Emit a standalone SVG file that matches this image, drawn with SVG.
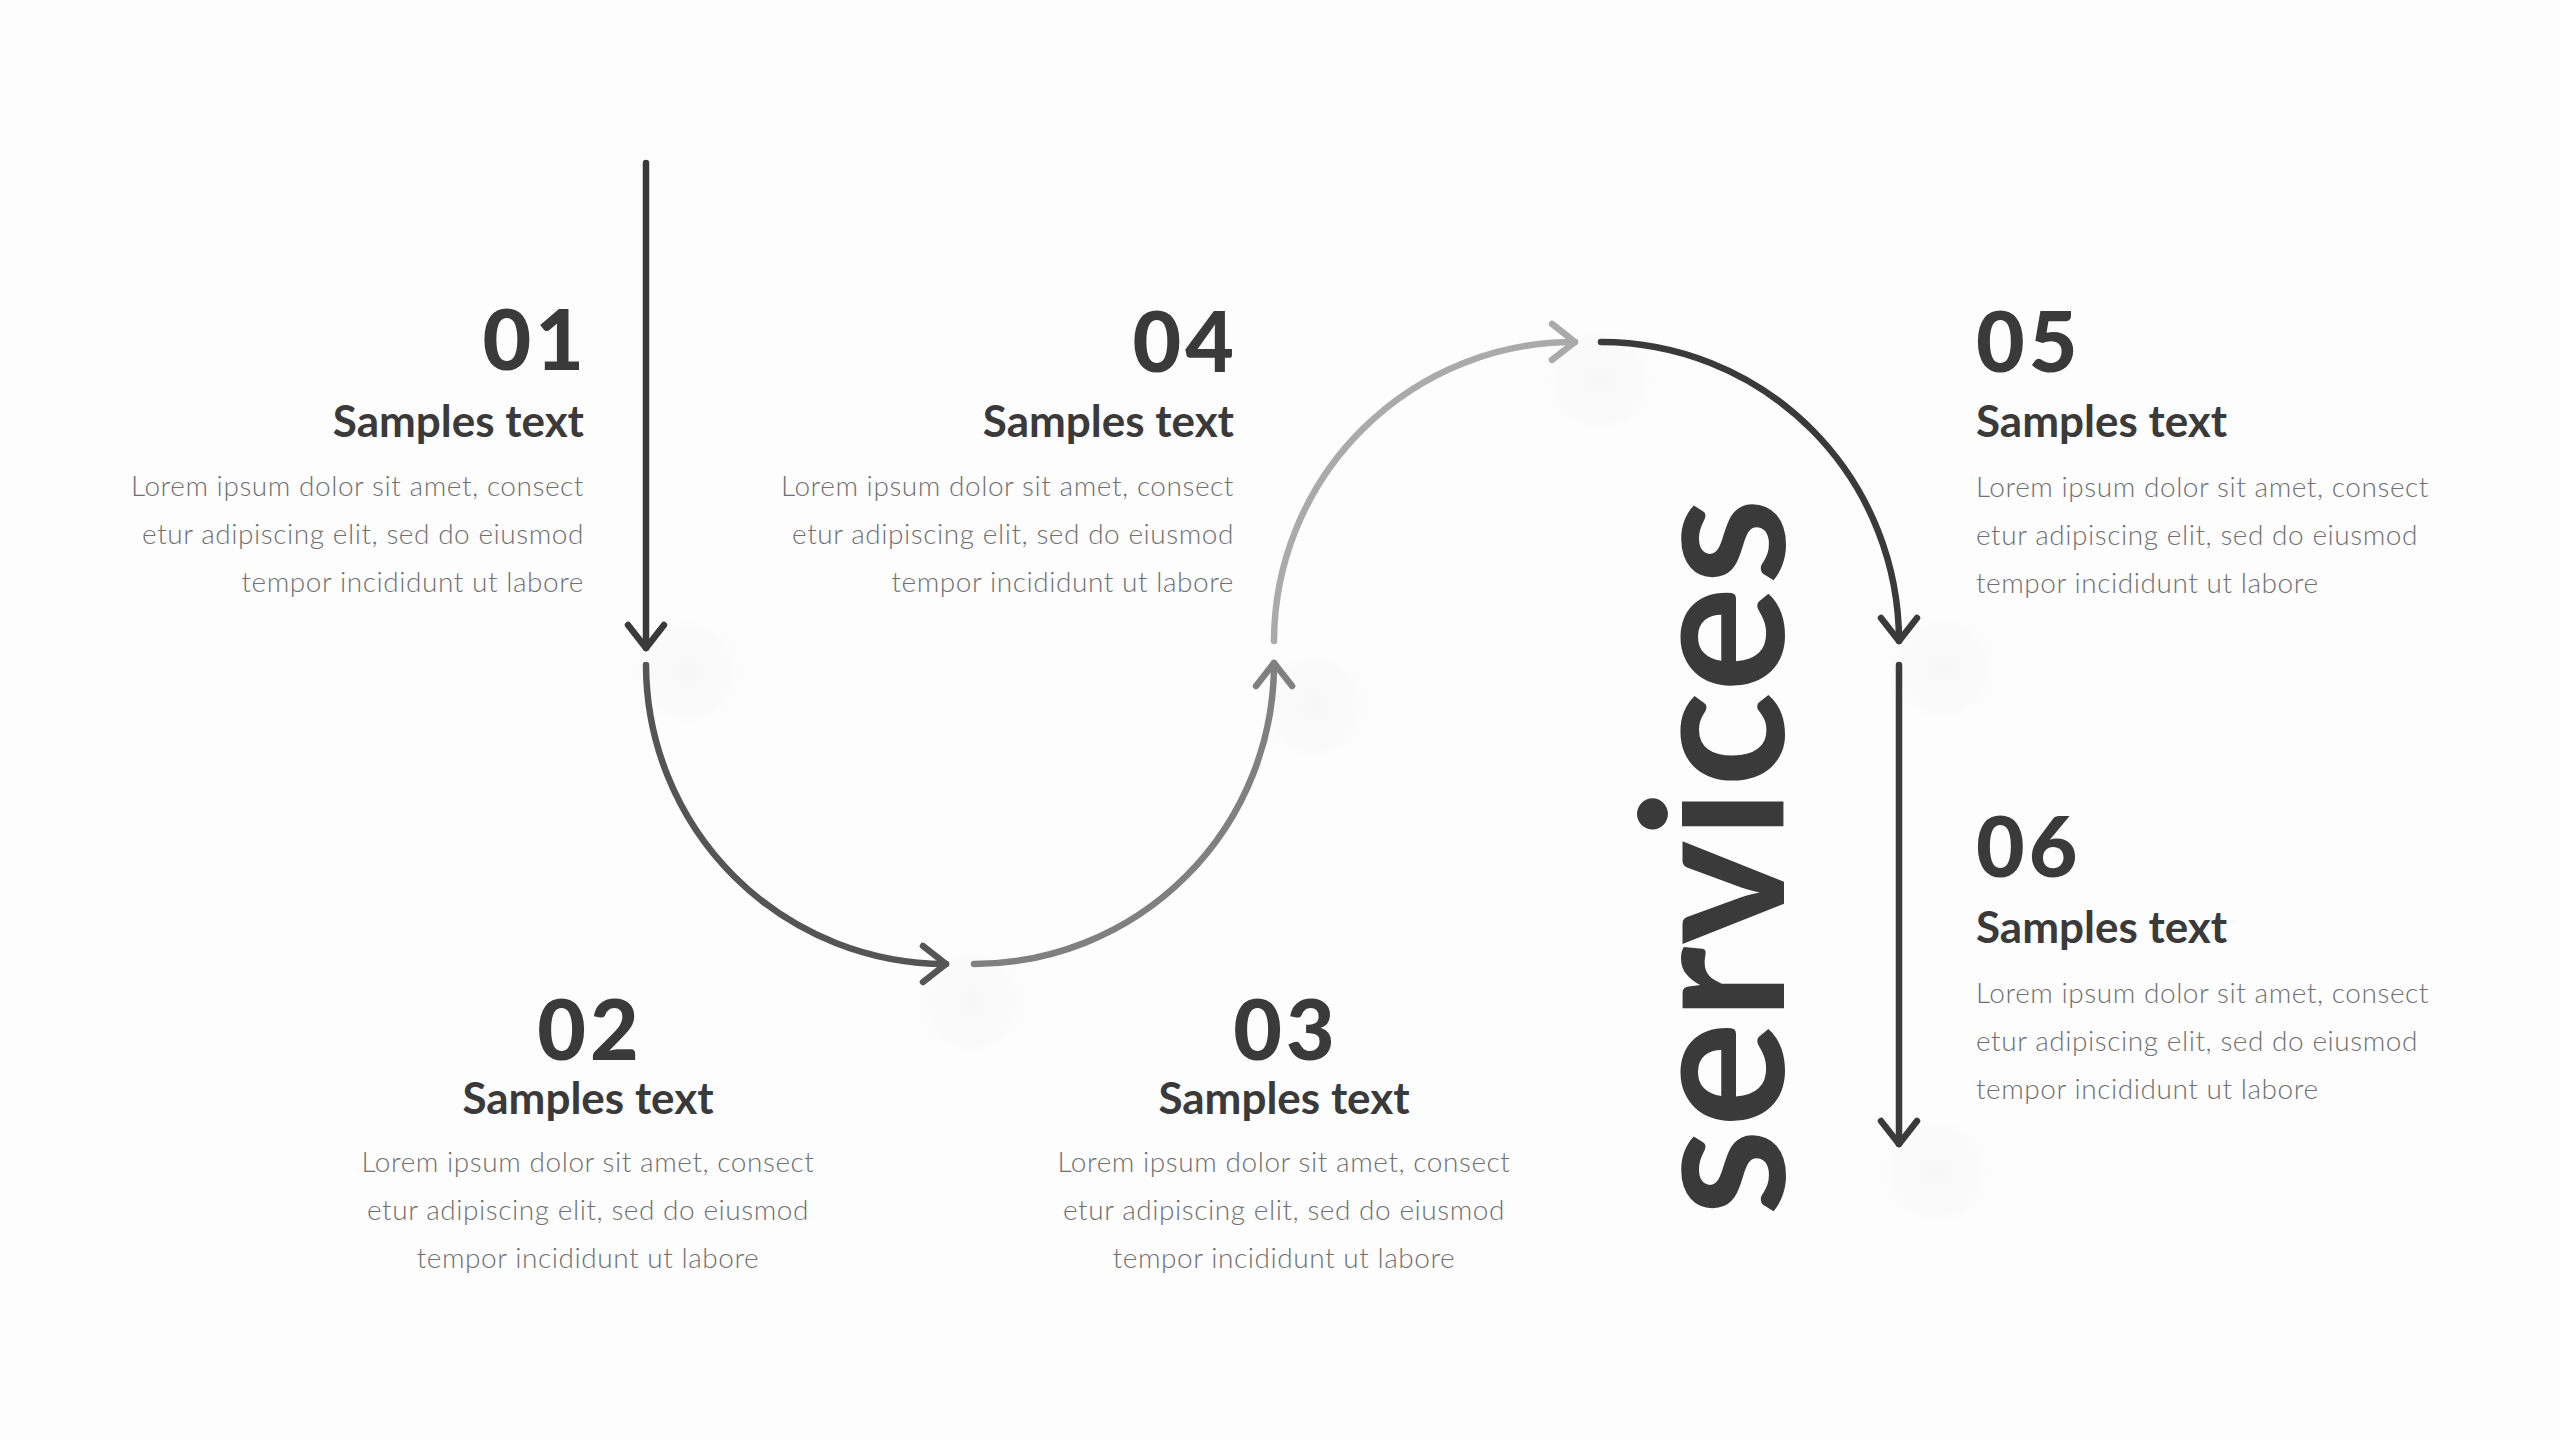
<svg xmlns="http://www.w3.org/2000/svg" width="2560" height="1440" viewBox="0 0 2560 1440">
<style>
.num{font-family:Lato,"Noto Sans",sans-serif;font-weight:900;font-size:84px;letter-spacing:4px;fill:#3a3a3a}
.title{font-family:Lato,"Noto Sans",sans-serif;font-weight:700;font-size:44px;fill:#3a3a3a}
.body{font-family:Lato,"Noto Sans",sans-serif;font-weight:300;font-size:28px;letter-spacing:0.55px;fill:#707070}
.big{font-family:Lato,"Noto Sans",sans-serif;font-weight:700;font-size:198px;fill:#3a3a3a}
.end{text-anchor:end}
.mid{text-anchor:middle}
.conn{fill:none;stroke-width:6.5;stroke-linecap:round}
.glow{fill:url(#glow)}
</style>
<defs>
<radialGradient id="glow">
<stop offset="0" stop-color="#eeeeee" stop-opacity="0.4"/>
<stop offset="0.7" stop-color="#f2f2f2" stop-opacity="0.25"/>
<stop offset="1" stop-color="#f6f6f6" stop-opacity="0"/>
</radialGradient>
<marker id="a1" markerUnits="userSpaceOnUse" orient="auto" overflow="visible" markerWidth="1" markerHeight="1" refX="0" refY="0"><path d="M-23,-18 L0,0 L-23,18" fill="none" stroke="#3a3a3a" stroke-width="6.5" stroke-linecap="round" stroke-linejoin="round"/></marker>
<marker id="a2" markerUnits="userSpaceOnUse" orient="auto" overflow="visible" markerWidth="1" markerHeight="1" refX="0" refY="0"><path d="M-23,-18 L0,0 L-23,18" fill="none" stroke="#555555" stroke-width="6.5" stroke-linecap="round" stroke-linejoin="round"/></marker>
<marker id="a3" markerUnits="userSpaceOnUse" orient="auto" overflow="visible" markerWidth="1" markerHeight="1" refX="0" refY="0"><path d="M-23,-18 L0,0 L-23,18" fill="none" stroke="#808080" stroke-width="6.5" stroke-linecap="round" stroke-linejoin="round"/></marker>
<marker id="a4" markerUnits="userSpaceOnUse" orient="auto" overflow="visible" markerWidth="1" markerHeight="1" refX="0" refY="0"><path d="M-23,-18 L0,0 L-23,18" fill="none" stroke="#aaaaaa" stroke-width="6.5" stroke-linecap="round" stroke-linejoin="round"/></marker>
</defs>
<rect x="0" y="0" width="2560" height="1440" fill="#fdfdfd"/>
<g id="glows">
<circle class="glow" cx="688" cy="672" r="60"/>
<circle class="glow" cx="972" cy="1002" r="60"/>
<circle class="glow" cx="1314" cy="706" r="60"/>
<circle class="glow" cx="1600" cy="380" r="60"/>
<circle class="glow" cx="1943" cy="668" r="60"/>
<circle class="glow" cx="1936" cy="1172" r="60"/>
</g>
<g id="connectors">
<path class="conn" stroke="#3a3a3a" d="M646,163 L646,648" marker-end="url(#a1)"/>
<path class="conn" stroke="#555555" d="M646,665 A300,300 0 0 0 946,964" marker-end="url(#a2)"/>
<path class="conn" stroke="#808080" d="M974,964 A300,300 0 0 0 1274,663" marker-end="url(#a3)"/>
<path class="conn" stroke="#aaaaaa" d="M1274,641 A300,300 0 0 1 1575,342" marker-end="url(#a4)"/>
<path class="conn" stroke="#3a3a3a" d="M1601,342 A298,299 0 0 1 1899,641" marker-end="url(#a1)"/>
<path class="conn" stroke="#3a3a3a" d="M1899,665 L1899,1144" marker-end="url(#a1)"/>
</g>
<g id="node-01">
<text class="num end" x="588" y="370">01</text>
<text class="title end" x="584" y="437">Samples text</text>
<text class="body end" x="584" y="496">Lorem ipsum dolor sit amet, consect</text>
<text class="body end" x="584" y="544">etur adipiscing elit, sed do eiusmod</text>
<text class="body end" x="584" y="592">tempor incididunt ut labore</text>
</g>
<g id="node-02">
<text class="num mid" x="590" y="1060">02</text>
<text class="title mid" x="588" y="1114">Samples text</text>
<text class="body mid" x="588" y="1172">Lorem ipsum dolor sit amet, consect</text>
<text class="body mid" x="588" y="1220">etur adipiscing elit, sed do eiusmod</text>
<text class="body mid" x="588" y="1268">tempor incididunt ut labore</text>
</g>
<g id="node-03">
<text class="num mid" x="1286" y="1060">03</text>
<text class="title mid" x="1284" y="1114">Samples text</text>
<text class="body mid" x="1284" y="1172">Lorem ipsum dolor sit amet, consect</text>
<text class="body mid" x="1284" y="1220">etur adipiscing elit, sed do eiusmod</text>
<text class="body mid" x="1284" y="1268">tempor incididunt ut labore</text>
</g>
<g id="node-04">
<text class="num end" x="1238" y="372">04</text>
<text class="title end" x="1234" y="437">Samples text</text>
<text class="body end" x="1234" y="496">Lorem ipsum dolor sit amet, consect</text>
<text class="body end" x="1234" y="544">etur adipiscing elit, sed do eiusmod</text>
<text class="body end" x="1234" y="592">tempor incididunt ut labore</text>
</g>
<g id="node-05">
<text class="num" x="1976" y="372">05</text>
<text class="title" x="1976" y="437">Samples text</text>
<text class="body" x="1976" y="497">Lorem ipsum dolor sit amet, consect</text>
<text class="body" x="1976" y="545">etur adipiscing elit, sed do eiusmod</text>
<text class="body" x="1976" y="593">tempor incididunt ut labore</text>
</g>
<g id="node-06">
<text class="num" x="1976" y="877">06</text>
<text class="title" x="1976" y="943">Samples text</text>
<text class="body" x="1976" y="1003">Lorem ipsum dolor sit amet, consect</text>
<text class="body" x="1976" y="1051">etur adipiscing elit, sed do eiusmod</text>
<text class="body" x="1976" y="1099">tempor incididunt ut labore</text>
</g>
<g id="title-services">
<text class="big mid" transform="translate(1784,857) rotate(-90)" x="0" y="0" textLength="718" lengthAdjust="spacing">services</text>
</g>
</svg>
